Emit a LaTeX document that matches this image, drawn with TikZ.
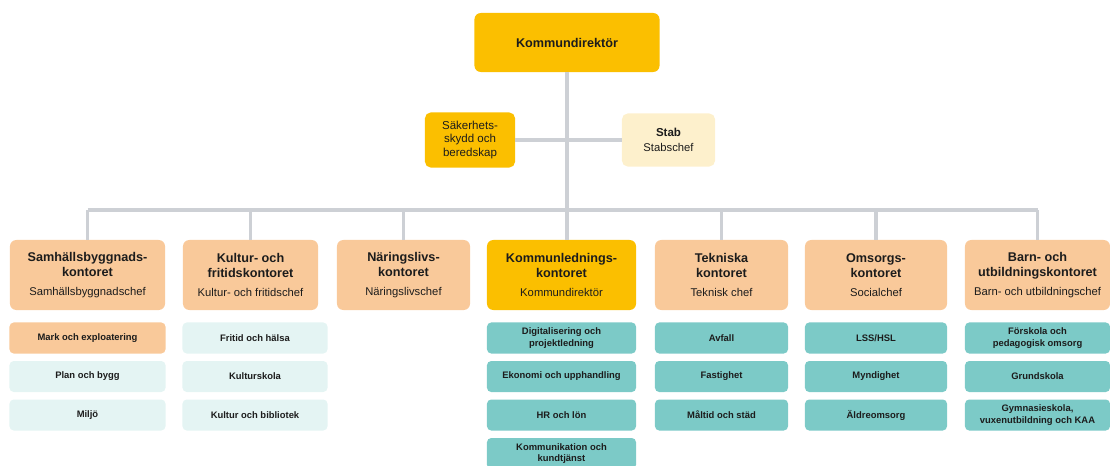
\documentclass[tikz,border=0pt]{standalone}
\usepackage{fontspec}
\setmainfont{Liberation Sans}
\usepackage{xcolor}
\usetikzlibrary{positioning}
\definecolor{orggold}{HTML}{FBBF00}
\definecolor{orgpeach}{HTML}{F9C99A}
\definecolor{orgcream}{HTML}{FDF0CC}
\definecolor{orgteal}{HTML}{7CCAC7}
\definecolor{orgpale}{HTML}{E4F4F3}
\definecolor{orgline}{HTML}{CDD0D5}
\definecolor{orgtext}{HTML}{1C1C1C}
\newcommand{\chef}[1]{{\fontsize{8}{10}\mdseries\selectfont #1}}

\begin{document}
\begin{tikzpicture}[x=0.025cm,y=-0.025cm,
  text=orgtext,
  link/.style={orgline,line width=2.6pt},
  boss/.style={fill=orggold,rounded corners=4.5pt,minimum width=4.625cm,
    minimum height=1.475cm,font=\fontsize{9}{10.7}\selectfont\bfseries},
  aside/.style={rounded corners=4pt,align=center,inner sep=1pt,
    font=\fontsize{8.2}{9.5}\selectfont},
  office/.style={rounded corners=4.5pt,align=center,inner sep=1pt,
    minimum height=1.75cm,font=\fontsize{9}{10.7}\selectfont\bfseries},
  unit/.style={rounded corners=3pt,align=center,inner sep=1pt,
    minimum height=0.775cm,font=\fontsize{6.7}{8.3}\selectfont\bfseries}]
\useasboundingbox (0,0) rectangle (1110,466);

% top level
\node[boss] (kd) at (567,42.5) {Kommundirektör};
\node[aside,fill=orggold,minimum width=2.25cm,minimum height=1.375cm]
  (sak) at (470,140) {Säkerhets-\\skydd och\\beredskap};
\node[aside,fill=orgcream,minimum width=2.325cm,minimum height=1.325cm]
  (stab) at (668.5,140) {\textbf{Stab}\\[1pt]\chef{Stabschef}};

% offices
\node[office,fill=orgpeach,minimum width=3.875cm] (off1) at (87.5,275)
  {Samhällsbyggnads-\\kontoret\\[3pt]\chef{Samhällsbyggnadschef}};
\node[office,fill=orgpeach,minimum width=3.375cm] (off2) at (250.5,275)
  {Kultur- och\\fritidskontoret\\[3pt]\chef{Kultur- och fritidschef}};
\node[office,fill=orgpeach,minimum width=3.325cm] (off3) at (403.5,275)
  {Näringslivs-\\kontoret\\[3pt]\chef{Näringslivschef}};
\node[office,fill=orggold,minimum width=3.725cm] (off4) at (561.5,275)
  {Kommunlednings-\\kontoret\\[3pt]\chef{Kommundirektör}};
\node[office,fill=orgpeach,minimum width=3.325cm] (off5) at (721.5,275)
  {Tekniska\\kontoret\\[3pt]\chef{Teknisk chef}};
\node[office,fill=orgpeach,minimum width=3.55cm] (off6) at (876,275)
  {Omsorgs-\\kontoret\\[3pt]\chef{Socialchef}};
\node[office,fill=orgpeach,minimum width=3.625cm] (off7) at (1037.5,275)
  {Barn- och\\utbildningskontoret\\[3pt]\chef{Barn- och utbildningschef}};

% units below each office
\foreach \c/\t [count=\i] in {orgpeach/Mark och exploatering,
    orgpale/Plan och bygg,orgpale/Miljö}
  \node[unit,fill=\c,minimum width=3.9cm] (u1\i) at (87.5,{299.5+38.5*\i}) {\t};
\foreach \t [count=\i] in {Fritid och hälsa,Kulturskola,Kultur och bibliotek}
  \node[unit,fill=orgpale,minimum width=3.625cm] (u2\i) at (255,{299.5+38.5*\i}) {\t};
\foreach \t [count=\i] in {{Digitalisering och\\projektledning},
    Ekonomi och upphandling,HR och lön,{Kommunikation och\\kundtjänst}}
  \node[unit,fill=orgteal,minimum width=3.725cm] (u4\i) at (561.5,{299.5+38.5*\i}) {\t};
\foreach \t [count=\i] in {Avfall,Fastighet,Måltid och städ}
  \node[unit,fill=orgteal,minimum width=3.325cm] (u5\i) at (721.5,{299.5+38.5*\i}) {\t};
\foreach \t [count=\i] in {LSS/HSL,Myndighet,Äldreomsorg}
  \node[unit,fill=orgteal,minimum width=3.55cm] (u6\i) at (876,{299.5+38.5*\i}) {\t};
\foreach \t [count=\i] in {{Förskola och\\pedagogisk omsorg},Grundskola,
    {Gymnasieskola,\\vuxenutbildning och KAA}}
  \node[unit,fill=orgteal,minimum width=3.625cm] (u7\i) at (1037.5,{299.5+38.5*\i}) {\t};

% connectors
\coordinate (bar) at (567,210);
\draw[link] (kd.south) -- (kd.south |- off4.north);
\draw[link] (sak.east) -- (stab.west);
\draw[link] (bar -| off1.north) -- (bar -| off7.north);
\foreach \n in {1,2,3,5,6,7}
  \draw[link] (bar -| off\n.north) -- (off\n.north);
\end{tikzpicture}
\end{document}
